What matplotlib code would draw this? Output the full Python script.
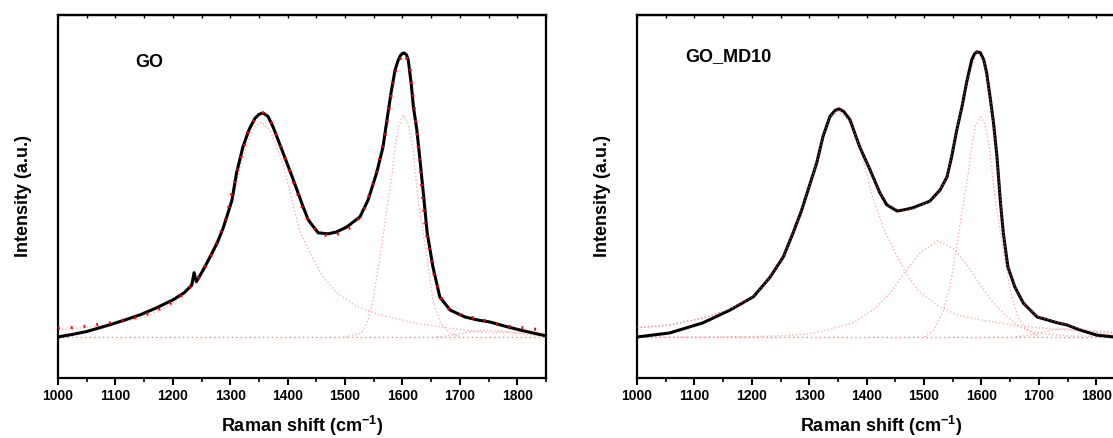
"""
Raman spectra of GO and GO_MD10 with fitted peak components.
"""

import matplotlib

matplotlib.use("Agg")
import matplotlib.pyplot as plt
from matplotlib.ticker import MultipleLocator

# ---------------------------------------------------------------- data
# Intensity in arbitrary units (percent of the plotted range).
baseline_x = [1000, 1850]
baseline_y = [11.3, 11.3]

# GO: measured spectrum
go_x = [1000, 1025, 1050, 1085, 1115, 1143, 1170, 1200, 1220, 1233,
        1237, 1241, 1253, 1265, 1277, 1287, 1295, 1303, 1311, 1322,
        1333, 1343, 1350, 1357, 1366, 1375, 1392, 1410, 1427, 1436,
        1453, 1470, 1485, 1503, 1526, 1540, 1555, 1566, 1573, 1580,
        1587, 1592, 1596, 1600, 1603, 1607, 1610, 1615, 1619, 1625,
        1631, 1638, 1643, 1653, 1665, 1683, 1709, 1730, 1753, 1780,
        1805, 1830, 1850]
go_y = [11.3, 12.0, 12.8, 14.4, 15.9, 17.4, 19.2, 21.5, 23.5, 25.6,
        29.0, 26.5, 29.8, 33.4, 37.1, 41.0, 44.9, 49.0, 56.5, 63.6,
        68.5, 71.5, 72.6, 73.0, 72.0, 69.0, 62.0, 54.5, 47.1, 43.5,
        40.0, 39.7, 40.2, 41.6, 44.4, 49.0, 56.5, 63.6, 71.1, 78.5,
        84.8, 87.3, 88.7, 89.4, 89.5, 89.0, 87.6, 81.3, 74.7, 68.3,
        59.2, 48.2, 40.0, 30.6, 22.3, 18.7, 16.8, 16.0, 15.4, 14.2,
        13.2, 12.3, 11.6]

# GO: cumulative fit
go_fit_x = [1000, 1027, 1050, 1073, 1096, 1120, 1143, 1166, 1189, 1213,
            1240, 1265, 1290, 1310, 1330, 1345, 1357, 1370, 1390, 1410,
            1430, 1450, 1470, 1490, 1510, 1530, 1550, 1570, 1585, 1600,
            1612, 1625, 1640, 1655, 1670, 1684, 1709, 1732, 1754, 1779,
            1801, 1826, 1850]
go_fit_y = [13.7, 13.9, 14.3, 14.8, 15.3, 16.2, 16.9, 18.3, 19.8, 22.4,
            26.5, 33.0, 42.5, 55.5, 67.5, 72.0, 73.0, 71.0, 63.0, 54.0,
            45.0, 40.5, 39.0, 39.8, 41.5, 45.0, 54.0, 67.0, 83.0, 89.5,
            87.0, 68.0, 41.0, 28.5, 21.0, 18.5, 16.8, 16.5, 15.2, 14.3,
            14.0, 13.5, 13.2]

# GO: fitted components (D band, G band, small 2nd-order bump)
go_d_x = [1000, 1050, 1100, 1150, 1200, 1240, 1270, 1290, 1303, 1320,
          1340, 1355, 1370, 1392, 1409, 1422, 1445, 1462, 1486, 1521,
          1561, 1619, 1677, 1735, 1800, 1850]
go_d_y = [13.3, 13.9, 15.0, 16.7, 20.5, 26.0, 34.0, 42.0, 48.0, 60.0,
          69.0, 70.5, 68.0, 59.0, 48.0, 40.0, 32.5, 27.8, 23.4, 19.6,
          17.4, 15.2, 13.8, 12.7, 12.5, 12.4]
go_g_x = [1500, 1529, 1540, 1549, 1558, 1567, 1575, 1583, 1587, 1593,
          1601, 1610, 1618, 1622, 1627, 1636, 1645, 1653, 1666, 1683, 1700]
go_g_y = [11.3, 12.4, 16.0, 21.5, 30.6, 40.0, 49.0, 57.3, 63.6, 69.2,
          72.5, 70.0, 63.6, 57.3, 49.0, 40.0, 30.6, 21.5, 15.2, 12.4, 11.3]
go_bump_x = [1660, 1690, 1720, 1745, 1770, 1800, 1830, 1850]
go_bump_y = [11.3, 11.9, 12.8, 13.2, 13.0, 12.3, 11.7, 11.5]

# GO_MD10: measured spectrum
md_x = [1000, 1057, 1115, 1162, 1203, 1232, 1255, 1272, 1287, 1298,
        1313, 1324, 1336, 1345, 1352, 1360, 1371, 1388, 1406, 1423,
        1435, 1453, 1465, 1481, 1510, 1528, 1540, 1548, 1557, 1566,
        1574, 1583, 1588, 1592, 1598, 1604, 1609, 1615, 1621, 1627,
        1633, 1638, 1646, 1658, 1673, 1697, 1715, 1732, 1749, 1772,
        1801, 1830, 1850]
md_y = [11.3, 12.4, 15.2, 18.7, 22.4, 27.8, 33.4, 40.0, 46.3, 51.8,
        59.2, 66.5, 72.0, 73.7, 74.1, 73.4, 71.1, 63.6, 57.3, 51.0,
        47.7, 46.0, 46.3, 46.9, 48.7, 51.8, 55.4, 60.9, 68.3, 74.7,
        81.3, 87.6, 89.3, 89.8, 89.6, 87.6, 84.0, 77.4, 70.2, 60.9,
        48.5, 40.0, 30.6, 25.1, 20.6, 16.8, 16.0, 15.2, 14.6, 13.2,
        11.8, 11.3, 11.3]

# GO_MD10: cumulative fit
md_fit_x = [1000, 1057, 1115, 1162, 1203, 1232, 1255, 1272, 1287, 1298,
            1313, 1324, 1336, 1352, 1371, 1388, 1406, 1423, 1440, 1460,
            1480, 1510, 1528, 1540, 1557, 1574, 1592, 1604, 1615, 1627,
            1638, 1646, 1658, 1673, 1697, 1732, 1772, 1801, 1830, 1850]
md_fit_y = [13.9, 14.6, 16.5, 19.0, 22.4, 27.8, 33.4, 40.0, 46.3, 51.8,
            59.2, 66.5, 72.0, 74.0, 71.0, 63.6, 57.3, 51.0, 47.5, 46.0,
            46.5, 48.7, 51.8, 55.4, 68.3, 81.3, 89.8, 87.6, 77.4, 60.9,
            40.0, 30.6, 25.1, 20.6, 17.0, 15.4, 13.6, 12.6, 12.3, 12.2]

# GO_MD10: fitted components (D, D3, G, small bump)
md_d_x = [1000, 1057, 1115, 1162, 1203, 1232, 1255, 1272, 1287, 1298,
          1313, 1324, 1336, 1352, 1371, 1390, 1410, 1430, 1450, 1470,
          1490, 1523, 1557, 1598, 1655, 1720, 1790, 1850]
md_d_y = [13.8, 14.6, 16.5, 19.0, 22.4, 27.5, 33.0, 39.5, 45.5, 51.5,
          59.0, 66.0, 71.5, 73.5, 70.5, 62.5, 50.0, 41.0, 34.5, 28.5,
          24.0, 20.0, 17.4, 16.0, 14.6, 13.5, 12.9, 12.5]
md_mid_x = [1000, 1100, 1200, 1250, 1300, 1331, 1376, 1411, 1441, 1464,
            1493, 1524, 1554, 1577, 1598, 1621, 1645, 1667, 1697, 1750, 1850]
md_mid_y = [11.3, 11.3, 11.4, 11.6, 12.2, 13.2, 15.2, 18.7, 23.4, 28.5,
            34.4, 37.8, 35.3, 30.6, 25.6, 20.6, 16.8, 14.0, 12.4, 11.6, 11.3]
md_g_x = [1500, 1517, 1534, 1545, 1554, 1563, 1570, 1576, 1583, 1589,
          1598, 1606, 1612, 1617, 1622, 1628, 1640, 1652, 1663, 1680, 1700]
md_g_y = [11.3, 13.2, 18.7, 25.1, 33.4, 42.7, 49.5, 55.5, 63.6, 69.2,
          71.9, 70.0, 65.6, 59.2, 51.8, 45.0, 33.0, 23.0, 17.0, 13.0, 11.5]
md_bump_x = [1660, 1690, 1720, 1745, 1770, 1800, 1850]
md_bump_y = [11.3, 12.0, 13.2, 13.6, 13.0, 12.2, 11.5]

# ---------------------------------------------------------------- style
plt.rcParams["font.family"] = ["Liberation Sans", "DejaVu Sans"]
plt.rcParams["font.weight"] = "bold"
plt.rcParams["mathtext.fontset"] = "custom"
plt.rcParams["mathtext.rm"] = "Liberation Sans:bold"
plt.rcParams["mathtext.bf"] = "Liberation Sans:bold"

COMP_STYLE = dict(color="#ff6b6b", lw=1.0, ls=(0, (1, 1.6)), alpha=0.55, zorder=2)
BASE_STYLE = dict(color="#ff4040", lw=1.0, ls=(0, (1, 2.2)), alpha=0.7, zorder=2)
DATA_STYLE = dict(color="black", lw=2.2, solid_joinstyle="round", zorder=3)


def style_axes(ax):
    ax.set_xlim(1000, 1850)
    ax.set_ylim(0, 100)
    ax.xaxis.set_major_locator(MultipleLocator(100))
    ax.xaxis.set_minor_locator(MultipleLocator(50))
    ax.tick_params(axis="x", which="major", direction="out", length=5, width=1.5,
                   labelsize=10, pad=3)
    ax.tick_params(axis="x", which="minor", direction="out", length=3, width=1.2)
    ax.set_yticks([])
    for spine in ax.spines.values():
        spine.set_linewidth(1.6)
    top = ax.secondary_xaxis("top")
    top.xaxis.set_major_locator(MultipleLocator(100))
    top.xaxis.set_minor_locator(MultipleLocator(50))
    top.tick_params(which="both", direction="in", length=2, width=1.0, labeltop=False)
    top.spines["top"].set_linewidth(1.6)
    ax.set_xlabel(r"Raman shift (cm$^{\mathbf{-1}}$)", fontsize=13, fontweight="bold",
                  labelpad=8)
    ax.set_ylabel("Intensity (a.u.)", fontsize=13, fontweight="bold")
    ax.yaxis.set_label_coords(-0.054, 0.5)


fig = plt.figure(figsize=(11.13, 4.38), dpi=100)
ax_go = fig.add_axes([0.0521, 0.137, 0.4385, 0.829])
ax_md = fig.add_axes([0.5723, 0.137, 0.4385, 0.829])

# ---- GO
ax_go.plot(baseline_x, baseline_y, **BASE_STYLE)
for cx, cy in [(go_d_x, go_d_y), (go_g_x, go_g_y), (go_bump_x, go_bump_y)]:
    ax_go.plot(cx, cy, **COMP_STYLE)
ax_go.plot(go_x, go_y, **DATA_STYLE)
ax_go.plot(go_fit_x, go_fit_y, color="red", lw=2.2, ls=(0, (0.6, 3.6)), zorder=4)
ax_go.text(0.158, 0.868, "GO", transform=ax_go.transAxes, fontsize=13,
           fontweight="bold", va="center", ha="left")
style_axes(ax_go)

# ---- GO_MD10
ax_md.plot(baseline_x, baseline_y, **BASE_STYLE)
for cx, cy in [(md_d_x, md_d_y), (md_mid_x, md_mid_y), (md_g_x, md_g_y),
               (md_bump_x, md_bump_y)]:
    ax_md.plot(cx, cy, **COMP_STYLE)
ax_md.plot(md_x, md_y, **DATA_STYLE)
ax_md.plot(md_fit_x, md_fit_y, **{**COMP_STYLE, "zorder": 4})
ax_md.text(0.098, 0.886, "GO_MD10", transform=ax_md.transAxes, fontsize=13,
           fontweight="bold", va="center", ha="left")
style_axes(ax_md)

fig.savefig("out.png", dpi=100)
plt.close(fig)
